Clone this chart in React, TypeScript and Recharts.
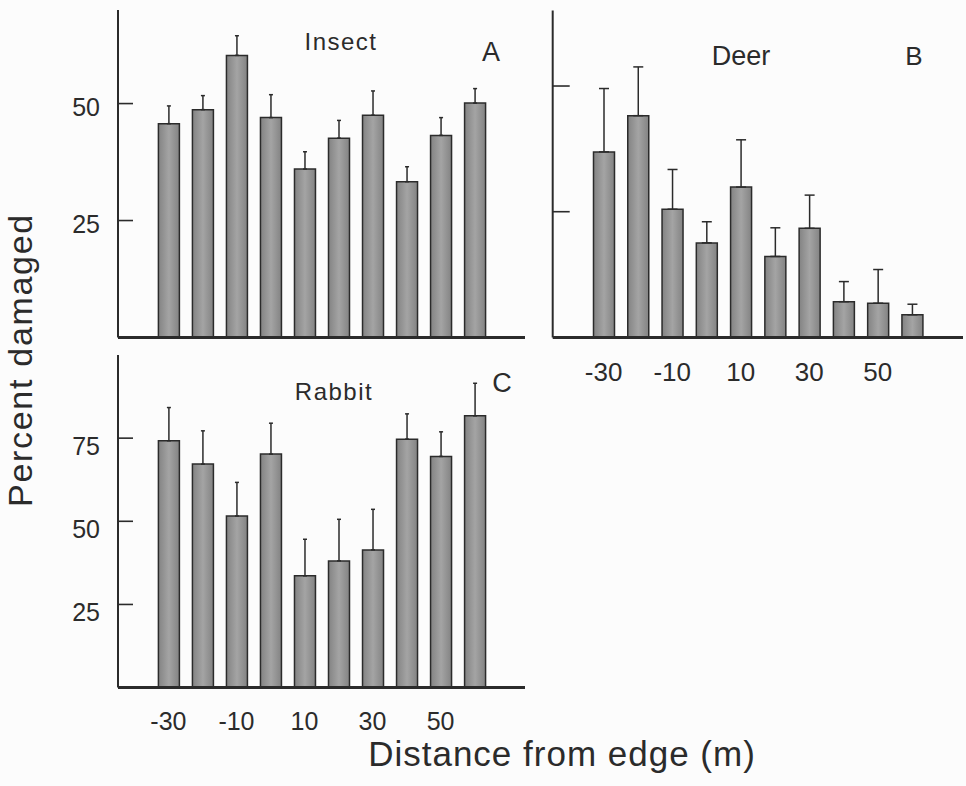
import { BarChart, Bar, XAxis, YAxis, ErrorBar } from "recharts";

const distances = [-30, -20, -10, 0, 10, 20, 30, 40, 50, 60];

const insectMean = [45.7, 48.7, 60.3, 47.0, 36.0, 42.6, 47.5, 33.3, 43.2, 50.1];
const insectErr = [3.8, 3.0, 4.2, 4.9, 3.7, 3.8, 5.2, 3.2, 3.8, 3.1];

const deerMean = [36.9, 44.1, 25.5, 18.8, 29.9, 16.1, 21.7, 7.1, 6.8, 4.5];
const deerErr = [12.6, 9.7, 7.9, 4.2, 9.4, 5.7, 6.6, 4.0, 6.7, 2.1];

const rabbitMean = [74.2, 67.2, 51.6, 70.2, 33.6, 38.1, 41.4, 74.7, 69.5, 81.7];
const rabbitErr = [10.0, 10.0, 10.1, 9.3, 11.0, 12.5, 12.2, 7.6, 7.4, 9.8];

const insectTicks = [25, 50];
const deerTicks = [25, 50];
const rabbitTicks = [25, 50, 75];

const INK = "#2b2b2b";
const FONT = '"Liberation Sans", Arial, Helvetica, sans-serif';

const toRows = (mean: number[], err: number[]) =>
  distances.map((d, i) => ({ dist: d, mean: mean[i], err: [0, err[i]] }));

function YTick(props: any) {
  const { x, y, payload, len, showLabel, labelDy } = props;
  return (
    <g>
      <line x1={x} y1={y} x2={x + len} y2={y} stroke={INK} strokeWidth={1.6} />
      {showLabel && (
        <text x={x - 18} y={y + labelDy} textAnchor="end" fontSize={25} fill={INK} fontFamily={FONT}>
          {payload.value}
        </text>
      )}
    </g>
  );
}

interface PanelProps {
  id: string;
  rows: { dist: number; mean: number; err: number[] }[];
  width: number;
  height: number;
  margin: { top: number; right: number; left: number; bottom: number };
  domain: [number, number];
  ticks: number[];
  tickLen: number;
  showYLabels: boolean;
  labelDy: number;
  showX: boolean;
  xFont: number;
  xHeight: number;
  pad: number;
  capWidth: number;
}

function Panel(p: PanelProps) {
  return (
    <BarChart width={p.width} height={p.height} data={p.rows} margin={p.margin}>
      <defs>
        <linearGradient id={p.id} x1="0" y1="0" x2="1" y2="0">
          <stop offset="0%" stopColor="#838383" />
          <stop offset="50%" stopColor="#a4a4a4" />
          <stop offset="100%" stopColor="#838383" />
        </linearGradient>
      </defs>
      <XAxis
        dataKey="dist"
        height={p.xHeight}
        padding={{ left: p.pad, right: p.pad }}
        axisLine={{ stroke: INK, strokeWidth: 3 }}
        tickLine={false}
        tickSize={0}
        tickMargin={25}
        interval={1}
        tick={p.showX ? { fontSize: p.xFont, fill: INK, fontFamily: FONT } : false}
      />
      <YAxis
        width={80}
        domain={p.domain}
        ticks={p.ticks}
        allowDataOverflow
        axisLine={{ stroke: INK, strokeWidth: 2 }}
        tickLine={false}
        tickSize={0}
        tickMargin={0}
        tick={<YTick len={p.tickLen} showLabel={p.showYLabels} labelDy={p.labelDy} />}
      />
      <Bar
        dataKey="mean"
        barSize={21}
        fill={`url(#${p.id})`}
        stroke={INK}
        strokeWidth={1.5}
        isAnimationActive={false}
      >
        <ErrorBar
          dataKey="err"
          direction="y"
          width={p.capWidth}
          stroke={INK}
          strokeWidth={1.5}
          isAnimationActive={false}
        />
      </Bar>
    </BarChart>
  );
}

export default function App() {
  return (
    <div
      style={{
        position: "absolute",
        left: 0,
        top: 0,
        width: 966,
        height: 786,
        background: "#fcfcfc",
        fontFamily: FONT,
        overflow: "hidden",
      }}
    >
      <div style={{ position: "absolute", left: 0, top: 0 }}>
        <Panel
          id="gA"
          rows={toRows(insectMean, insectErr)}
          width={540}
          height={360}
          margin={{ top: 10, right: 15, left: 38, bottom: 0 }}
          domain={[0, 70]}
          ticks={insectTicks}
          tickLen={15}
          showYLabels={true}
          labelDy={12.5}
          showX={false}
          xFont={25}
          xHeight={22.5}
          pad={33.4}
          capWidth={2}
        />
      </div>
      <div style={{ position: "absolute", left: 440, top: 0 }}>
        <Panel
          id="gB"
          rows={toRows(deerMean, deerErr)}
          width={526}
          height={400}
          margin={{ top: 10.6, right: 3, left: 32.7, bottom: 12.6 }}
          domain={[0, 65]}
          ticks={deerTicks}
          tickLen={17}
          showYLabels={false}
          labelDy={0}
          showX={true}
          xFont={26}
          xHeight={50}
          pad={33.8}
          capWidth={5}
        />
      </div>
      <div style={{ position: "absolute", left: 0, top: 340 }}>
        <Panel
          id="gC"
          rows={toRows(rabbitMean, rabbitErr)}
          width={540}
          height={420}
          margin={{ top: 15, right: 15, left: 38, bottom: 22.4 }}
          domain={[0, 100]}
          ticks={rabbitTicks}
          tickLen={15}
          showYLabels={true}
          labelDy={16.5}
          showX={true}
          xFont={25}
          xHeight={50}
          pad={33.4}
          capWidth={2}
        />
      </div>
      <svg
        width={966}
        height={786}
        style={{ position: "absolute", left: 0, top: 0, pointerEvents: "none" }}
        fontFamily={FONT}
        fill={INK}
      >
        <text x={341} y={49.5} textAnchor="middle" fontSize={24} letterSpacing={1.5}>Insect</text>
        <text x={491} y={60.5} textAnchor="middle" fontSize={27}>A</text>
        <text x={741} y={65} textAnchor="middle" fontSize={27}>Deer</text>
        <text x={914} y={65} textAnchor="middle" fontSize={26}>B</text>
        <text x={334} y={400} textAnchor="middle" fontSize={24} letterSpacing={1.5}>Rabbit</text>
        <text x={502} y={391.5} textAnchor="middle" fontSize={27}>C</text>
        <text x={562} y={766} textAnchor="middle" fontSize={35} letterSpacing={1}>
          Distance from edge (m)
        </text>
        <text
          x={32}
          y={360}
          textAnchor="middle"
          fontSize={34}
          letterSpacing={1.7}
          transform="rotate(-90 32 360)"
        >
          Percent damaged
        </text>
      </svg>
    </div>
  );
}
